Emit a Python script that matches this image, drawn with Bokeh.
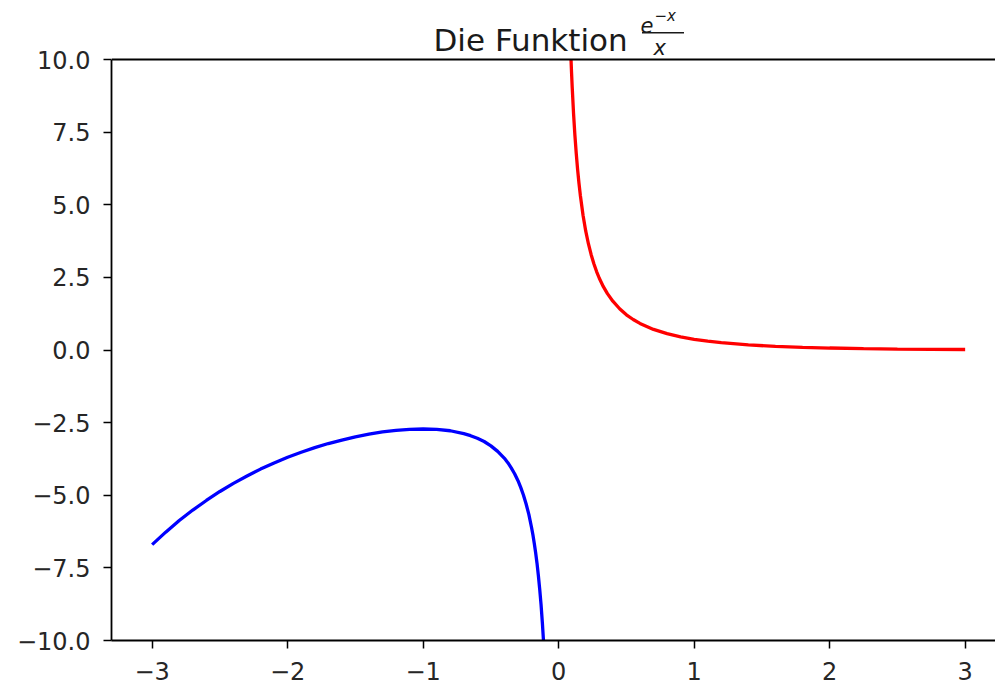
from bokeh.plotting import figure
from bokeh.models import Range1d, FixedTicker, Label, Arrow, BoxAnnotation
from bokeh.embed import file_html
from bokeh.resources import INLINE

# ---- data ----
neg_x = [-3.0, -2.9, -2.8, -2.7, -2.6, -2.5, -2.4, -2.3, -2.2, -2.1, -2.0, -1.9, -1.8,
         -1.7, -1.6, -1.5, -1.4, -1.3, -1.2, -1.1, -1.0, -0.9, -0.8, -0.7, -0.65, -0.6,
         -0.55, -0.5, -0.45, -0.4, -0.375, -0.35, -0.325, -0.3, -0.28, -0.26, -0.24,
         -0.22, -0.2, -0.19, -0.18, -0.17, -0.16, -0.15, -0.14, -0.13, -0.12, -0.11]
neg_y = [-6.70, -6.27, -5.87, -5.51, -5.18, -4.87, -4.59, -4.34, -4.10, -3.89, -3.69, -3.52, -3.36,
         -3.22, -3.10, -2.99, -2.90, -2.82, -2.77, -2.73, -2.72, -2.73, -2.78, -2.88, -2.95, -3.04,
         -3.15, -3.30, -3.49, -3.73, -3.88, -4.06, -4.26, -4.50, -4.73, -4.99, -5.30,
         -5.66, -6.11, -6.36, -6.65, -6.97, -7.33, -7.75, -8.22, -8.76, -9.40, -10.15]

pos_x = [0.08, 0.085, 0.09, 0.095, 0.1, 0.11, 0.12, 0.13, 0.14, 0.15, 0.16, 0.18, 0.2,
         0.22, 0.24, 0.26, 0.28, 0.3, 0.33, 0.36, 0.4, 0.45, 0.5, 0.55, 0.6, 0.7, 0.8,
         0.9, 1.0, 1.1, 1.2, 1.4, 1.6, 1.8, 2.0, 2.25, 2.5, 2.75, 3.0]
pos_y = [11.54, 10.81, 10.15, 9.57, 9.05, 8.14, 7.39, 6.76, 6.21, 5.74, 5.33, 4.64, 4.09,
         3.65, 3.28, 2.97, 2.70, 2.47, 2.18, 1.94, 1.68, 1.42, 1.21, 1.05, 0.915, 0.709, 0.562,
         0.452, 0.368, 0.303, 0.251, 0.176, 0.126, 0.092, 0.068, 0.047, 0.033, 0.023, 0.017]

x_ticks = [-3, -2, -1, 0, 1, 2, 3]
x_tick_labels = ["\u22123", "\u22122", "\u22121", "0", "1", "2", "3"]
y_ticks = [-10.0, -7.5, -5.0, -2.5, 0.0, 2.5, 5.0, 7.5, 10.0]
y_tick_labels = ["\u221210.0", "\u22127.5", "\u22125.0", "\u22122.5", "0.0", "2.5", "5.0", "7.5", "10.0"]
y_lo, y_hi = -10.0, 10.0

title_main = "Die Funktion"
frac_num = "e"
frac_sup = "\u2212x"
frac_den = "x"

FONT = "DejaVu Sans"
W, H = 995, 686
LEFT, TOP, BOTTOM = 111, 59, 46
X0 = -3.3
PX_PER_X = 135.5
X1 = X0 + (W - LEFT) / PX_PER_X
PX_PER_Y = (H - TOP - BOTTOM) / (y_hi - y_lo)
Y_TOP = y_hi + TOP / PX_PER_Y   # frame extends up to the canvas top (title area)


def fx(px):
    return X0 + (px - LEFT) / PX_PER_X


def fy(py):
    return y_hi + (TOP - py) / PX_PER_Y


p = figure(width=W, height=H, x_range=Range1d(X0, X1), y_range=Range1d(y_lo, Y_TOP),
           output_backend="svg", toolbar_location=None,
           min_border_left=LEFT, min_border_right=0, min_border_top=0,
           min_border_bottom=BOTTOM)
p.grid.visible = False
p.outline_line_color = None

p.line(neg_x, neg_y, line_color="#0000ff", line_width=3.3)
p.line(pos_x, pos_y, line_color="#ff0000", line_width=3.3)

for ax in (p.xaxis[0], p.yaxis[0]):
    ax.axis_line_color = "black"
    ax.axis_line_width = 1.8
    ax.major_tick_line_color = "black"
    ax.major_tick_line_width = 1.5
    ax.major_tick_in = 0
    ax.major_tick_out = 8
    ax.minor_tick_line_color = None
    ax.major_label_text_font = FONT
    ax.major_label_text_font_size = "24px"
    ax.major_label_text_color = "#262626"

p.xaxis.ticker = FixedTicker(ticks=x_ticks)
p.xaxis.major_label_overrides = {v: s for v, s in zip(x_ticks, x_tick_labels)}
p.xaxis.major_label_standoff = 13
p.yaxis.ticker = FixedTicker(ticks=y_ticks)
p.yaxis.major_label_overrides = {v: s for v, s in zip(y_ticks, y_tick_labels)}
p.yaxis.major_label_standoff = 13
p.yaxis.bounds = (y_lo, y_hi)

# blank title area above the axes box (hides the curve above y = 10)
p.add_layout(BoxAnnotation(bottom=y_hi, fill_color="white", fill_alpha=1.0,
                           line_color=None))
# top spine
p.add_layout(Arrow(end=None, x_start=X0, y_start=y_hi, x_end=X1, y_end=y_hi,
                   line_color="black", line_width=1.8))

# title: "Die Funktion" + fraction e^{-x}/x
tc = "#1a1a1a"
p.add_layout(Label(x=fx(433), y=fy(39), text=title_main, text_font=FONT,
                   text_font_size="31px", text_color=tc, text_baseline="alphabetic"))
p.add_layout(Label(x=fx(640), y=fy(24), text=frac_num, text_font=FONT,
                   text_font_size="21px", text_font_style="italic", text_color=tc,
                   text_baseline="alphabetic"))
p.add_layout(Label(x=fx(654), y=fy(15), text=frac_sup, text_font=FONT,
                   text_font_size="15px", text_font_style="italic", text_color=tc,
                   text_baseline="alphabetic"))
p.add_layout(Arrow(end=None, x_start=fx(641.5), y_start=fy(32.3), x_end=fx(683.5),
                   y_end=fy(32.3), line_color=tc, line_width=1.5))
p.add_layout(Label(x=fx(653), y=fy(47), text=frac_den, text_font=FONT,
                   text_font_size="21px", text_font_style="italic", text_color=tc,
                   text_baseline="alphabetic"))

open("out.html", "w").write(file_html(p, INLINE))
